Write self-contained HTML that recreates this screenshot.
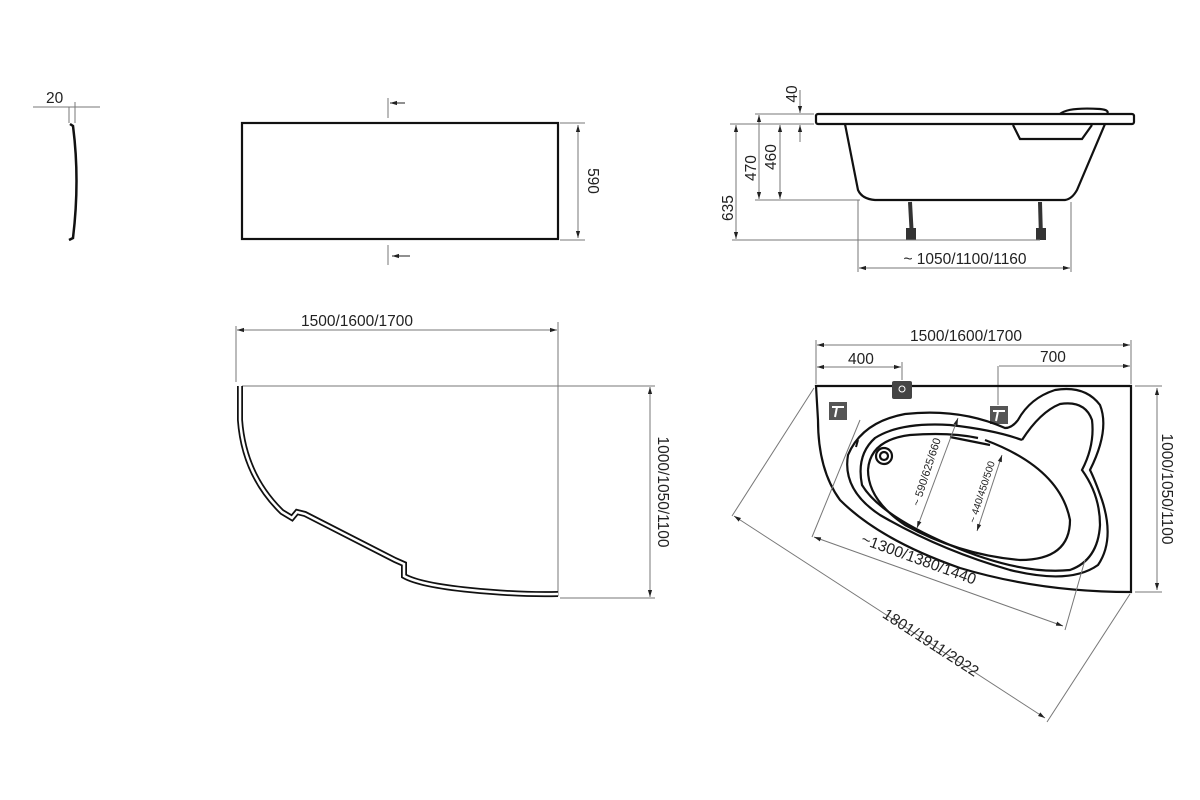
<!DOCTYPE html>
<html><head><meta charset="utf-8"><style>
html,body{margin:0;padding:0;background:#fff}
svg{display:block}
text{font-family:"Liberation Sans",sans-serif;font-size:15.5px;fill:#222}
.d{stroke:#777;stroke-width:1;fill:none}
.o{stroke:#111;stroke-width:2.2;fill:none}
</style></head><body>
<svg width="1200" height="800" viewBox="0 0 1200 800" xmlns="http://www.w3.org/2000/svg">
<defs>
<marker id="a" viewBox="0 0 10 10" refX="10" refY="5" markerWidth="7" markerHeight="7" orient="auto-start-reverse"><path d="M0,2 L10,5 L0,8z" fill="#222"/></marker>
</defs>
<!-- small profile -->
<text x="46" y="103">20</text>
<line class="d" x1="33" y1="107" x2="100" y2="107"/>
<line class="d" x1="69" y1="107" x2="69" y2="123"/><line class="d" x1="75" y1="102" x2="75" y2="123"/>
<path d="M70,124 L73,126 Q80,180 73,238 L69,240" stroke="#111" stroke-width="2.5" fill="none"/>

<!-- front panel -->
<rect x="242" y="123" width="316" height="116" class="o"/>
<line class="d" x1="388" y1="98" x2="388" y2="118"/><line x1="405" y1="103" x2="390" y2="103" stroke="#222" marker-end="url(#a)"/>
<line class="d" x1="388" y1="245" x2="388" y2="265"/><line x1="410" y1="256" x2="392" y2="256" stroke="#222" marker-end="url(#a)"/>
<line class="d" x1="560" y1="123" x2="585" y2="123"/><line class="d" x1="560" y1="240" x2="585" y2="240"/>
<line class="d" x1="578" y1="125" x2="578" y2="238" marker-start="url(#a)" marker-end="url(#a)"/>
<text transform="translate(588,181) rotate(90)" text-anchor="middle">590</text>

<!-- side view -->
<rect x="816" y="114" width="318" height="10" rx="2" class="o"/>
<path d="M1060,114 Q1068,107 1100,109 Q1110,110 1107,114" class="o" stroke-width="1.5"/>
<path d="M845,124 L858,190 Q862,199 875,200 L1065,200 Q1072,199 1077,190 L1105,124" class="o"/>
<path d="M1013,125 L1020,139 L1082,139 L1092,125" class="o" stroke-width="1.5"/>
<path d="M910,202 L912,238 M1040,202 L1041,238" stroke="#333" stroke-width="4"/>
<rect x="906" y="228" width="10" height="12" fill="#333"/><rect x="1036" y="228" width="10" height="12" fill="#333"/>
<line class="d" x1="730" y1="124" x2="814" y2="124"/><line class="d" x1="755" y1="114" x2="814" y2="114"/>
<line class="d" x1="755" y1="200" x2="860" y2="200"/><line class="d" x1="732" y1="240" x2="1040" y2="240"/>
<line class="d" x1="800" y1="90" x2="800" y2="113" marker-end="url(#a)"/><line class="d" x1="800" y1="142" x2="800" y2="125" marker-end="url(#a)"/>
<text transform="translate(797,94) rotate(-90)" text-anchor="middle">40</text>
<line class="d" x1="759" y1="115" x2="759" y2="199" marker-start="url(#a)" marker-end="url(#a)"/>
<text transform="translate(756,168) rotate(-90)" text-anchor="middle">470</text>
<line class="d" x1="780" y1="125" x2="780" y2="199" marker-start="url(#a)" marker-end="url(#a)"/>
<text transform="translate(776,157) rotate(-90)" text-anchor="middle">460</text>
<line class="d" x1="736" y1="125" x2="736" y2="239" marker-start="url(#a)" marker-end="url(#a)"/>
<text transform="translate(733,208) rotate(-90)" text-anchor="middle">635</text>
<line class="d" x1="858" y1="200" x2="858" y2="272"/><line class="d" x1="1071" y1="202" x2="1071" y2="272"/>
<line class="d" x1="859" y1="268" x2="1070" y2="268" marker-start="url(#a)" marker-end="url(#a)"/>
<text x="965" y="264" text-anchor="middle">~ 1050/1100/1160</text>

<!-- curved panel -->
<text x="357" y="326" text-anchor="middle">1500/1600/1700</text>
<line class="d" x1="236" y1="326" x2="236" y2="382"/><line class="d" x1="558" y1="322" x2="558" y2="596"/>
<line class="d" x1="237" y1="330" x2="557" y2="330" marker-start="url(#a)" marker-end="url(#a)"/>
<line class="d" x1="242" y1="386" x2="655" y2="386"/><line class="d" x1="560" y1="598" x2="655" y2="598"/>
<line class="d" x1="650" y1="387" x2="650" y2="597" marker-start="url(#a)" marker-end="url(#a)"/>
<text transform="translate(658,492) rotate(90)" text-anchor="middle">1000/1050/1100</text>
<path d="M240,386 L240,420 Q244,475 282,512 L292,518 L297,512 L305,514 L395,560 L404,564 L404,576 Q420,585 470,590 Q520,595 558,594" stroke="#111" stroke-width="6" fill="none"/>
<path d="M240,386 L240,420 Q244,475 282,512 L292,518 L297,512 L305,514 L395,560 L404,564 L404,576 Q420,585 470,590 Q520,595 558,594" stroke="#fff" stroke-width="2.5" fill="none"/>

<!-- plan view -->
<text x="966" y="341" text-anchor="middle">1500/1600/1700</text>
<line class="d" x1="816" y1="340" x2="816" y2="384"/><line class="d" x1="1131" y1="340" x2="1131" y2="384"/>
<line class="d" x1="817" y1="345" x2="1130" y2="345" marker-start="url(#a)" marker-end="url(#a)"/>
<text x="848" y="364">400</text>
<line class="d" x1="817" y1="367" x2="901" y2="367" marker-start="url(#a)" marker-end="url(#a)"/>
<line class="d" x1="902" y1="362" x2="902" y2="380"/>
<text x="1040" y="362">700</text>
<line class="d" x1="998" y1="366" x2="998" y2="405"/>
<line class="d" x1="999" y1="366" x2="1130" y2="366" marker-end="url(#a)"/>
<path d="M816,386 L1131,386 L1131,592 Q1040,592 960,568 Q880,540 840,500 Q818,470 818,420 Z" class="o"/>
<line class="d" x1="1135" y1="386" x2="1162" y2="386"/><line class="d" x1="1135" y1="592" x2="1162" y2="592"/>
<line class="d" x1="1157" y1="388" x2="1157" y2="590" marker-start="url(#a)" marker-end="url(#a)"/>
<text transform="translate(1162,489) rotate(90)" text-anchor="middle">1000/1050/1100</text>
<!-- icons -->
<rect x="892" y="381" width="20" height="18" rx="2" fill="#444"/><circle cx="902" cy="389" r="3" fill="none" stroke="#fff"/>
<rect x="829" y="402" width="18" height="18" fill="#555"/><path d="M832,407 L844,407 M837,407 L835,417" stroke="#fff" stroke-width="2"/>
<rect x="990" y="406" width="18" height="18" fill="#555"/><path d="M993,411 L1005,411 M998,411 L996,421" stroke="#fff" stroke-width="2"/>
<!-- tub rim outer -->
<path d="M1005,428 Q960,408 905,414 Q862,422 848,455 Q842,490 880,515 Q940,550 1010,570 Q1070,585 1098,565 Q1115,540 1102,500 Q1095,480 1090,470 Q1110,430 1100,405 Q1085,385 1055,390 Q1030,398 1018,420 Q1012,428 1005,428 Z" class="o"/>
<path d="M1022,440 Q1040,412 1060,404 Q1085,400 1092,420 Q1095,445 1082,470 Q1100,495 1100,525 Q1098,560 1070,570 Q1020,575 950,545 Q880,515 862,485 Q856,455 875,438 Q900,422 950,425 Q995,430 1022,440" class="o"/>
<path d="M868,470 Q870,440 910,435 Q950,432 978,438 M985,440 Q1060,468 1070,520 Q1070,560 1020,560 Q960,555 905,525 Q868,500 868,470" class="o"/>
<path d="M950,437 L990,445" class="o"/>
<circle cx="884" cy="456" r="8" class="o" stroke-width="1.5"/><circle cx="884" cy="456" r="4" class="o" stroke-width="1.5"/>
<line x1="858" y1="440" x2="856" y2="447" stroke="#111" stroke-width="2"/>
<!-- internal dims -->
<line class="d" x1="958" y1="418" x2="917" y2="528" marker-start="url(#a)" marker-end="url(#a)"/>
<text transform="translate(930,473) rotate(-72)" text-anchor="middle" style="font-size:11px">~ 590/625/660</text>
<line class="d" x1="1002" y1="455" x2="977" y2="531" marker-start="url(#a)" marker-end="url(#a)"/>
<text transform="translate(985,493) rotate(-72)" text-anchor="middle" style="font-size:10px">~ 440/450/500</text>
<line class="d" x1="860" y1="420" x2="812" y2="537"/>
<line class="d" x1="1085" y1="560" x2="1065" y2="630"/>
<line class="d" x1="814" y1="537" x2="1063" y2="626" marker-start="url(#a)" marker-end="url(#a)"/>
<text transform="translate(917,564) rotate(20)" text-anchor="middle">~1300/1380/1440</text>
<line class="d" x1="814" y1="388" x2="732" y2="516"/>
<line class="d" x1="1130" y1="594" x2="1047" y2="722"/>
<line class="d" x1="734" y1="516" x2="1045" y2="718" marker-start="url(#a)" marker-end="url(#a)"/>
<text transform="translate(928,647) rotate(33)" text-anchor="middle">1801/1911/2022</text>
</svg>
</body></html>
